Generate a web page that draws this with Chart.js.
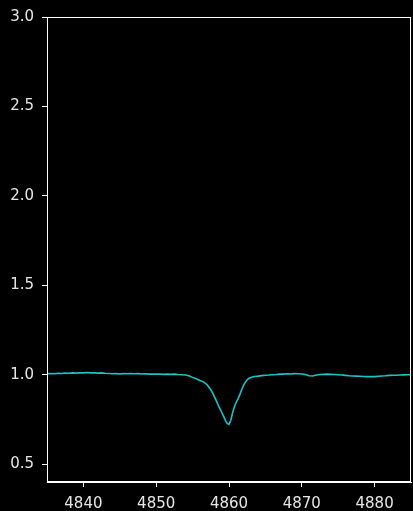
<!DOCTYPE html>
<html>
<head>
<meta charset="utf-8">
<script src="https://cdn.jsdelivr.net/npm/chart.js@4/dist/chart.umd.min.js"></script>
<style>
  html, body { margin: 0; padding: 0; background: #000; }
  #wrap { width: 413px; height: 511px; }
</style>
</head>
<body>
<div id="wrap"><canvas id="c" width="413" height="511"></canvas></div>
<script>
// Normalised flux around the H-beta line (wavelength in Angstrom)
const wavelength = [
  4835.0, 4835.5, 4836.0, 4836.5, 4837.0, 4837.5, 4838.0, 4838.5, 4839.0, 4839.5,
  4840.0, 4840.5, 4841.0, 4841.5, 4842.0, 4842.5, 4843.0, 4843.5, 4844.0, 4844.5,
  4845.0, 4845.5, 4846.0, 4846.5, 4847.0, 4847.5, 4848.0, 4848.5, 4849.0, 4849.5,
  4850.0, 4850.5, 4851.0, 4851.5, 4852.0, 4852.5, 4853.0, 4853.5, 4854.0, 4854.5,
  4855.0, 4855.5, 4856.0, 4856.5, 4857.0, 4857.25, 4857.5, 4857.75, 4858.0, 4858.25,
  4858.5, 4858.75, 4859.0, 4859.25, 4859.5, 4859.75, 4860.0, 4860.25, 4860.5, 4860.75,
  4861.0, 4861.25, 4861.5, 4861.75, 4862.0, 4862.25, 4862.5, 4862.75, 4863.0, 4863.5,
  4864.0, 4864.5, 4865.0, 4865.5, 4866.0, 4866.5, 4867.0, 4867.5, 4868.0, 4868.5,
  4869.0, 4869.5, 4870.0, 4870.5, 4871.0, 4871.5, 4872.0, 4872.5, 4873.0, 4873.5,
  4874.0, 4874.5, 4875.0, 4875.5, 4876.0, 4876.5, 4877.0, 4877.5, 4878.0, 4878.5,
  4879.0, 4879.5, 4880.0, 4880.5, 4881.0, 4881.5, 4882.0, 4882.5, 4883.0, 4883.5,
  4884.0, 4884.5, 4885.0
];
const flux = [
  1.006, 1.007, 1.005, 1.008, 1.007, 1.009, 1.008, 1.010, 1.009, 1.011,
  1.010, 1.012, 1.010, 1.011, 1.009, 1.010, 1.008, 1.007, 1.005, 1.006,
  1.004, 1.006, 1.005, 1.007, 1.005, 1.006, 1.004, 1.005, 1.003, 1.004,
  1.003, 1.004, 1.002, 1.003, 1.002, 1.003, 1.001, 1.000, 0.998, 0.994,
  0.985, 0.977, 0.968, 0.960, 0.944, 0.930, 0.915, 0.898, 0.877, 0.855,
  0.832, 0.810, 0.790, 0.768, 0.745, 0.728, 0.722, 0.745, 0.788, 0.822,
  0.846, 0.866, 0.890, 0.917, 0.940, 0.958, 0.972, 0.980, 0.984, 0.990,
  0.992, 0.995, 0.997, 0.998, 1.000, 1.001, 1.003, 1.003, 1.005, 1.004,
  1.006, 1.005, 1.004, 1.001, 0.994, 0.993, 0.998, 1.001, 1.002, 1.003,
  1.002, 1.001, 1.000, 0.998, 0.996, 0.994, 0.993, 0.992, 0.991, 0.990,
  0.989, 0.990, 0.989, 0.991, 0.993, 0.994, 0.996, 0.997, 0.997, 0.998,
  0.999, 1.000, 1.000
];
const xTicks = [4840, 4850, 4860, 4870, 4880];
const yTicks = [0.5, 1.0, 1.5, 2.0, 2.5, 3.0];

const points = wavelength.map((w, i) => ({ x: w, y: flux[i] }));

// Black page plus a white frame around the plotting area (all four spines)
const framePlugin = {
  id: 'frame',
  beforeDraw(chart) {
    const ctx = chart.ctx;
    ctx.save();
    ctx.fillStyle = '#000';
    ctx.fillRect(0, 0, chart.width, chart.height);
    ctx.restore();
  },
  afterDraw(chart) {
    const a = chart.chartArea;
    const ctx = chart.ctx;
    ctx.save();
    ctx.strokeStyle = '#ffffff';
    ctx.lineWidth = 1;
    ctx.strokeRect(Math.round(a.left) + 0.5, Math.round(a.top) + 0.5,
                   Math.round(a.right - a.left) - 1, Math.round(a.bottom - a.top) - 1);
    ctx.restore();
  }
};

const tickFont = { family: 'DejaVu Sans', size: 15 };

new Chart(document.getElementById('c'), {
  type: 'line',
  data: {
    datasets: [{
      data: points,
      borderColor: '#1cc4c4',
      borderWidth: 1.6,
      pointRadius: 0,
      tension: 0,
      fill: false
    }]
  },
  options: {
    responsive: false,
    animation: false,
    devicePixelRatio: 1,
    layout: { padding: { top: 16, right: 2, left: 0, bottom: 0 } },
    plugins: { legend: { display: false }, tooltip: { enabled: false } },
    scales: {
      x: {
        type: 'linear',
        min: 4835,
        max: 4885,
        afterBuildTicks(scale) { scale.ticks = xTicks.map(v => ({ value: v })); },
        afterFit(scale) { scale.height = 29; },
        grid: { drawOnChartArea: false, drawTicks: true, tickLength: 5, color: '#ffffff' },
        border: { display: true, color: '#ffffff', width: 1 },
        ticks: {
          color: '#e6e6e6',
          font: tickFont,
          padding: 8,
          maxRotation: 0,
          callback: v => String(v)
        }
      },
      y: {
        type: 'linear',
        min: 0.4,
        max: 3.0,
        afterBuildTicks(scale) { scale.ticks = yTicks.map(v => ({ value: v })); },
        afterFit(scale) { scale.width = 47; },
        grid: { drawOnChartArea: false, drawTicks: true, tickLength: 5, color: '#ffffff' },
        border: { display: true, color: '#ffffff', width: 1 },
        ticks: {
          color: '#e6e6e6',
          font: tickFont,
          padding: 8,
          callback: v => Number(v).toFixed(1)
        }
      }
    }
  },
  plugins: [framePlugin]
});
</script>
</body>
</html>
